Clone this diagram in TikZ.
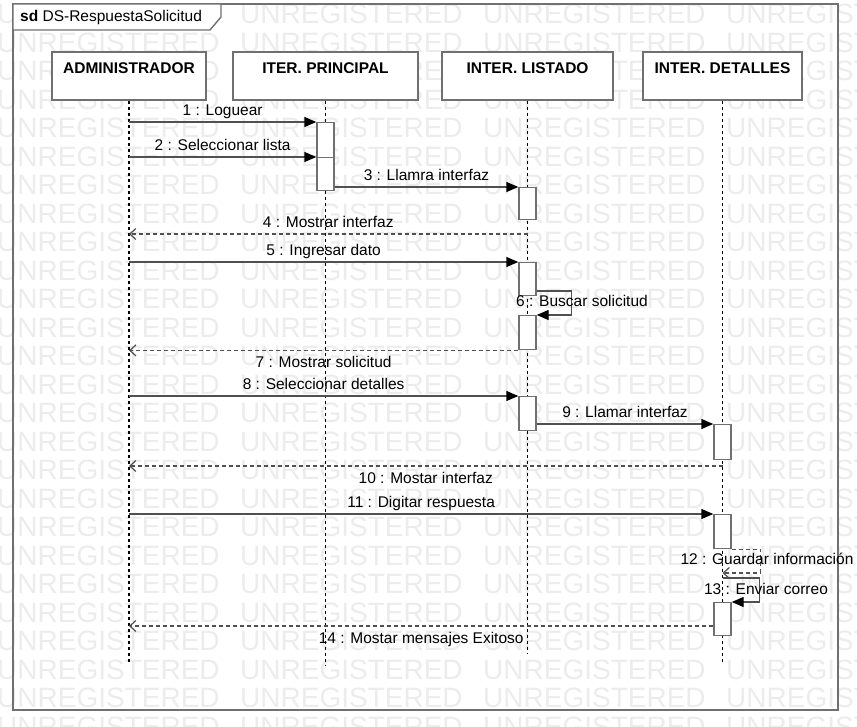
\documentclass[tikz,border=0pt]{standalone}
\usepackage{fontspec}
\setmainfont{Liberation Sans}
\usetikzlibrary{arrows.meta}
\definecolor{edgegray}{HTML}{707070}
\definecolor{msggray}{HTML}{505050}
\definecolor{markgray}{HTML}{ECECEC}
\newcommand{\lblfont}{\fontsize{15.5}{18}\selectfont}

\begin{document}
\begin{tikzpicture}[x=1pt,y=-1pt,
    head/.style={draw=edgegray,line width=1.4pt,fill=white,font=\lblfont\bfseries,
      text height=13pt,text depth=18pt,inner ysep=8.5pt,inner xsep=0pt},
    bar/.style={draw=edgegray,line width=1.4pt,fill=white,minimum width=17pt,
      inner sep=0pt,anchor=north},
    lifeline/.style={line width=1.1pt,dash pattern=on 3pt off 3pt},
    msg/.style={draw=msggray,line width=1.4pt,-{Triangle[length=12pt,width=10pt,color=black]}},
    ret/.style={draw=msggray,line width=1.2pt,dash pattern=on 4pt off 3pt,
      -{Straight Barb[length=6pt,width=11pt]}},
    lbl/.style={font=\lblfont,inner sep=1.5pt,text height=11pt,text depth=3pt},
    wm/.style={font=\fontsize{28}{28}\selectfont,text=markgray,anchor=west,inner sep=0pt}]
  \useasboundingbox (0,0) rectangle (857,727);
  \begin{scope}
    \clip (0,0) rectangle (857,727);
    \foreach \r in {0,...,25}
      \foreach \c in {0,...,3}
        {\node[wm] (wm-\r-\c) at ({-3+243*\c},{14+28.5*\r}) {UNREGISTERED};}
  \end{scope}

  \node[draw=edgegray,line width=1.8pt,minimum width=825pt,minimum height=706pt,
    inner sep=0pt,outer sep=0pt,anchor=north west] (frame) at (13,4) {};
  \draw[edgegray,line width=1.4pt,fill=white] (frame.north west) -- (221,4) -- (221,17)
    -- (210,30) -- (frame.west |- 0,30) -- cycle;
  \node[font=\lblfont,anchor=west,inner sep=0pt] (title) at (20,17) {\textbf{sd} DS-RespuestaSolicitud};

  \node[head,minimum width=154pt] (adm) at (129,76) {ADMINISTRADOR};
  \node[head,minimum width=185pt] (iter) at (325.5,76) {ITER. PRINCIPAL};
  \node[head,minimum width=171pt] (list) at (527.5,76) {INTER. LISTADO};
  \node[head,minimum width=159pt] (det) at (722.5,76) {INTER. DETALLES};

  \coordinate (admEnd) at (adm |- 0,662);
  \coordinate (iterEnd) at (iter |- 0,665);
  \coordinate (listEnd) at (list |- 0,653);
  \coordinate (detEnd) at (det |- 0,662);
  \draw[lifeline] (adm.south) -- (admEnd);
  \draw[lifeline] (iter.south) -- (iterEnd);
  \draw[lifeline] (list.south) -- (listEnd);
  \draw[lifeline] (det.south) -- (detEnd);

  \node[bar,minimum height=68pt] (a1) at (iter |- 0,122) {};
  \node[bar,minimum height=33pt] (a2) at (iter |- 0,157) {};
  \node[bar,minimum height=32pt] (b1) at (list |- 0,187) {};
  \node[bar,minimum height=33pt] (b2) at (list |- 0,262) {};
  \node[bar,minimum height=34pt] (b3) at (list |- 0,315) {};
  \node[bar,minimum height=34pt] (b4) at (list |- 0,396) {};
  \node[bar,minimum height=35pt] (c1) at (det |- 0,424) {};
  \node[bar,minimum height=34pt] (c2) at (det |- 0,514) {};
  \node[bar,minimum height=33pt] (c3) at (det |- 0,602) {};

  \draw[msg] (adm |- a1.north) -- node[lbl,above=1.5pt] (m1) {1 : Loguear} (a1.north west);
  \draw[msg] (adm |- a2.north) -- node[lbl,above=1.5pt] (m2) {2 : Seleccionar lista} (a2.north west);
  \draw[msg] (a2.east |- b1.north) -- node[lbl,above=1.5pt] (m3) {3 : Llamra interfaz} (b1.north west);
  \draw[ret] (list |- 0,234) -- node[lbl,above=1.5pt] (m4) {4 : Mostrar interfaz} (adm |- 0,234);
  \draw[msg] (adm |- b2.north) -- node[lbl,above=1.5pt] (m5) {5 : Ingresar dato} (b2.north west);
  \draw[msg] (b2.east |- 0,291) -- ++(35,0) |- (b3.north east);
  \node[lbl] (m6) at (582,303) {6 : Buscar solicitud};
  \draw[ret] (b3.south west) -- node[lbl,below=4pt] (m7) {7 : Mostrar solicitud} (adm |- b3.south);
  \draw[msg] (adm |- b4.north) -- node[lbl,above=1.5pt] (m8) {8 : Seleccionar detalles} (b4.north west);
  \draw[msg] (b4.east |- c1.north) -- node[lbl,above=1.5pt] (m9) {9 : Llamar interfaz} (c1.north west);
  \draw[ret] (det |- 0,466) -- node[lbl,below=4pt] (m10) {10 : Mostar interfaz} (adm |- 0,466);
  \draw[msg] (adm |- c2.north) -- node[lbl,above=1.5pt] (m11) {11 : Digitar respuesta} (c2.north west);
  \draw[ret] (c2.south east) -- ++(29,0) |- (det |- 0,573);
  \node[lbl] (m12) at (767,560) {12 : Guardar información};
  \draw[msg] (det |- 0,578) -- ++(37,0) |- (c3.north east);
  \node[lbl] (m13) at (766,590) {13 : Enviar correo};
  \draw[ret] (c3.west |- 0,626) -- node[lbl,below=4pt] (m14) {14 : Mostar mensajes Exitoso} (adm |- 0,626);
\end{tikzpicture}
\end{document}
